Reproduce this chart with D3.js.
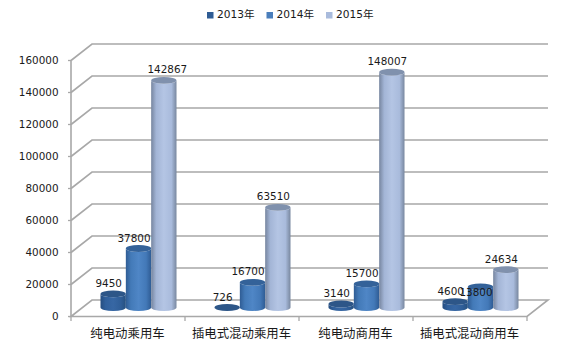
<!DOCTYPE html>
<html><head><meta charset="utf-8">
<script src="https://cdn.jsdelivr.net/npm/d3@7"></script>
<style>html,body{margin:0;padding:0;background:#fff}svg{display:block}
text{font-family:"DejaVu Sans",sans-serif;font-size:10.4px;fill:#1a1a1a}
.cat{font-family:"Noto Sans CJK SC",sans-serif;font-size:12.4px}
.leg{font-family:"DejaVu Sans","Noto Sans CJK SC",sans-serif;font-size:10.6px}</style>
</head><body><svg id="c" width="562" height="354"></svg>
<script>
const categories=["纯电动乘用车","插电式混动乘用车","纯电动商用车","插电式混动商用车"];
const seriesNames=["2013年","2014年","2015年"];
const v2013=[9450,726,3140,4600];
const v2014=[37800,16700,15700,13800];
const v2015=[142867,63510,148007,24634];
const yTicks=[0,20000,40000,60000,80000,100000,120000,140000,160000];
const seriesValues=[v2013,v2014,v2015];

const W=562,H=354,left=71,right=527,y0=316.5,yTop=60.5,dx=21,dy=16.5,barDx=10.5,baseDy=9,topDy=7.5,ry=3.4;
const svg=d3.select("#c");
const y=d3.scaleLinear().domain([0,160000]).range([y0,yTop]);
const x=d3.scaleBand().domain(categories).range([left,right]);
const xs=d3.scaleBand().domain(seriesNames).range([-38,38]);
const grid="#a8a8a8";

const defs=svg.append("defs");
const palettes=[
 ["#254d80","#30609c","#3767a4","#2f5e98","#26507f"],
 ["#2f5c94","#437ab8","#4f86c6","#4379b8","#2f5c94"],
 ["#76859f","#a3b5d6","#b4c5e4","#a9bbdc","#78879f"]];
palettes.forEach((p,i)=>{
  const g=defs.append("linearGradient").attr("id","g"+i);
  [0,.2,.5,.8,1].forEach((o,j)=>g.append("stop").attr("offset",o).attr("stop-color",p[j]));
});
const topCol=["#2d5688","#346299","#8091ad"];
const legendCol=["#2f5c94","#4a7ebb","#a9bbdc"];

// walls and gridlines
yTicks.forEach(t=>{
  if(t===0) return;
  const yy=y(t);
  svg.append("path").attr("d",`M${left},${yy}L${left+dx},${yy-dy}L${right+dx},${yy-dy}`)
    .attr("fill","none").attr("stroke",grid).attr("stroke-width",1.6);
});
svg.append("path").attr("d",`M${left},${y0}L${left+dx},${y0-dy}L${right+dx},${y0-dy}L${right},${y0}Z`)
  .attr("fill","none").attr("stroke",grid).attr("stroke-width",1.6);
svg.append("line").attr("x1",left).attr("x2",left).attr("y1",yTop).attr("y2",y0).attr("stroke",grid).attr("stroke-width",1.6);

// y axis
yTicks.forEach(t=>{
  svg.append("line").attr("x1",left-3).attr("x2",left).attr("y1",y(t)).attr("y2",y(t)).attr("stroke",grid).attr("stroke-width",1.3);
  svg.append("text").attr("x",left-12.5).attr("y",y(t)+3.6).attr("text-anchor","end").text(t);
});
// category ticks and labels
categories.forEach(c=>{
  svg.append("text").attr("class","cat").attr("x",x(c)+x.bandwidth()/2-0.5).attr("y",337.5).attr("text-anchor","middle").text(c);
});
[...categories.map(c=>x(c)),right].forEach(px=>{
  svg.append("line").attr("x1",px).attr("x2",px).attr("y1",y0).attr("y2",y0+4.5).attr("stroke",grid).attr("stroke-width",1.3);
});

// cylinders
const rx=xs.bandwidth()/2;
categories.forEach((c,ci)=>{
  seriesNames.forEach((s,si)=>{
    const val=seriesValues[si][ci];
    const cx=x(c)+x.bandwidth()/2+xs(s)+rx+barDx;
    const yb=y(0)-baseDy, yt=Math.min(y(val)-topDy,yb);
    svg.append("path").attr("d",
      `M${cx-rx},${yt}L${cx-rx},${yb}A${rx},${ry} 0 0 0 ${cx+rx},${yb}L${cx+rx},${yt}A${rx},${ry} 0 0 1 ${cx-rx},${yt}Z`)
      .attr("fill",`url(#g${si})`);
    svg.append("ellipse").attr("cx",cx).attr("cy",yt).attr("rx",rx).attr("ry",ry).attr("fill",topCol[si]);
  });
});
// data labels (drawn above all bars)
const nudge=v=>({142867:3.5}[v]??-4.5);
categories.forEach((c,ci)=>{
  seriesNames.forEach((s,si)=>{
    const val=seriesValues[si][ci];
    const cx=x(c)+x.bandwidth()/2+xs(s)+rx+barDx;
    let ly=y(val)-topDy-7;
    if(val===13800) ly=y(val)-topDy+9;
    svg.append("text").attr("x",cx+nudge(val)).attr("y",ly).attr("text-anchor","middle").text(val);
  });
});
// legend
const legX=d3.scalePoint().domain(seriesNames).range([207,326]);
seriesNames.forEach((s,i)=>{
  svg.append("rect").attr("x",legX(s)).attr("y",12).attr("width",6.5).attr("height",6.5).attr("fill",legendCol[i]);
  svg.append("text").attr("class","leg").attr("x",legX(s)+10).attr("y",17.5).text(s);
});
</script></body></html>
